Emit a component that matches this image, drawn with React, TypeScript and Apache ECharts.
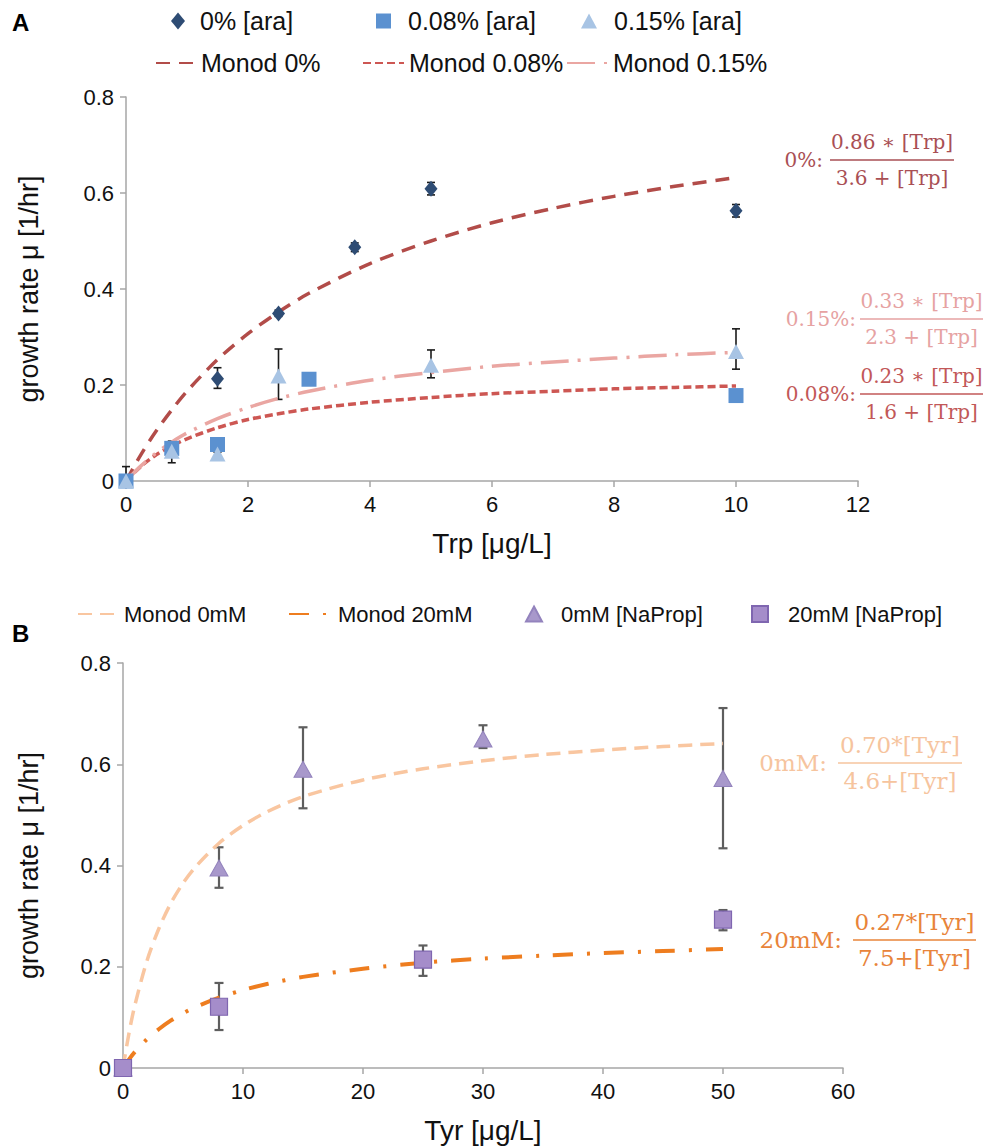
import React, { useEffect, useRef } from "react";
import * as echarts from "echarts";

// ---------- Panel A data ----------
const trpTicks = [0, 2, 4, 6, 8, 10, 12];
const trpX0 = [0, 1.5, 2.5, 3.75, 5, 10];
const growth0 = [0, 0.213, 0.349, 0.487, 0.609, 0.563];
const err0Low = [0, 0.193, 0.343, 0.478, 0.596, 0.55];
const err0High = [0.004, 0.236, 0.356, 0.496, 0.622, 0.576];

const trpX008 = [0, 0.75, 1.5, 3, 10];
const growth008 = [0, 0.068, 0.076, 0.212, 0.178];
const err008Low = [0, 0.038, 0.068, 0.207, 0.173];
const err008High = [0.03, 0.083, 0.084, 0.217, 0.183];

const trpX015 = [0, 0.75, 1.5, 2.5, 5, 10];
const growth015 = [0, 0.062, 0.056, 0.219, 0.241, 0.27];
const err015Low = [0, 0.055, 0.05, 0.17, 0.215, 0.233];
const err015High = [0.004, 0.07, 0.06, 0.275, 0.273, 0.317];

const trpCurveX = [0, 0.25, 0.5, 0.75, 1, 1.5, 2, 2.5, 3, 4, 5, 6, 7, 8, 9, 10];
const monod0 = [0, 0.056, 0.105, 0.148, 0.187, 0.253, 0.307, 0.352, 0.391, 0.453, 0.5, 0.538, 0.568, 0.593, 0.614, 0.632];
const monod008 = [0, 0.031, 0.055, 0.073, 0.088, 0.111, 0.128, 0.14, 0.15, 0.164, 0.174, 0.182, 0.187, 0.192, 0.195, 0.198];
const monod015 = [0, 0.032, 0.059, 0.081, 0.1, 0.13, 0.153, 0.172, 0.187, 0.21, 0.226, 0.239, 0.248, 0.256, 0.263, 0.268];

// ---------- Panel B data ----------
const tyrTicks = [0, 10, 20, 30, 40, 50, 60];
const tyrX0mM = [0, 8, 15, 30, 50];
const growth0mM = [0, 0.395, 0.59, 0.65, 0.572];
const err0mMLow = [0, 0.356, 0.513, 0.632, 0.434];
const err0mMHigh = [0, 0.436, 0.673, 0.677, 0.711];

const tyrX20mM = [0, 8, 25, 50];
const growth20mM = [0, 0.121, 0.214, 0.293];
const err20mMLow = [0, 0.075, 0.182, 0.272];
const err20mMHigh = [0, 0.168, 0.242, 0.312];

const tyrCurveX = [0, 0.5, 1, 2, 3, 4, 5, 6, 8, 10, 12, 15, 20, 25, 30, 35, 40, 45, 50];
const monod0mM = [0, 0.069, 0.125, 0.212, 0.276, 0.326, 0.365, 0.396, 0.444, 0.479, 0.506, 0.536, 0.569, 0.591, 0.607, 0.619, 0.628, 0.635, 0.641];
const monod20mM = [0, 0.017, 0.032, 0.057, 0.077, 0.094, 0.108, 0.12, 0.139, 0.154, 0.166, 0.18, 0.196, 0.208, 0.216, 0.222, 0.227, 0.231, 0.235];

const growthTicks = [0, 0.2, 0.4, 0.6, 0.8];

const SANS = "'Liberation Sans', Arial, Helvetica, sans-serif";
const SERIF = "'DejaVu Serif', 'Liberation Serif', serif";

const zip = (xs: number[], ys: number[]) => xs.map((x, i) => [x, ys[i]]);

function errSeries(name: string, xs: number[], lo: number[], hi: number[], color: string, width: number, cap: number, axis: number) {
  return {
    type: "custom",
    name,
    xAxisIndex: axis,
    yAxisIndex: axis,
    z: 2,
    silent: true,
    data: xs.map((x, i) => [x, lo[i], hi[i]]),
    encode: { x: 0, y: [1, 2] },
    renderItem: (params: any, api: any) => {
      const x = api.value(0);
      const l = api.value(1);
      const h = api.value(2);
      if (h - l <= 0) return { type: "group", children: [] };
      const p1 = api.coord([x, h]);
      const p2 = api.coord([x, l]);
      const st = { stroke: color, lineWidth: width };
      return {
        type: "group",
        children: [
          { type: "line", shape: { x1: p1[0], y1: p1[1], x2: p2[0], y2: p2[1] }, style: st },
          { type: "line", shape: { x1: p1[0] - cap, y1: p1[1], x2: p1[0] + cap, y2: p1[1] }, style: st },
          { type: "line", shape: { x1: p2[0] - cap, y1: p2[1], x2: p2[0] + cap, y2: p2[1] }, style: st },
        ],
      };
    },
  };
}

function axisBase(titleSize: number) {
  return {
    type: "value",
    axisLine: { show: true, lineStyle: { color: "#a6a6a6", width: 1.5 } },
    axisTick: { show: true, length: 6, lineStyle: { color: "#a6a6a6", width: 1.5 } },
    splitLine: { show: false },
    nameLocation: "middle",
    nameTextStyle: { color: "#111", fontSize: titleSize, fontFamily: SANS },
  };
}

function legendItem(name: string, icon: string | undefined, left: number, centerY: number, iw: number, ih: number, pad: number, size: number) {
  const isLine = !icon;
  return {
    data: [icon ? { name, icon } : { name }],
    left,
    top: centerY - 14,
    itemWidth: iw,
    itemHeight: ih,
    selectedMode: false,
    padding: 0,
    ...(isLine ? { itemStyle: { opacity: 0, color: "rgba(0,0,0,0)", borderWidth: 0 } } : {}),
    textStyle: { color: "#111", fontSize: size, fontFamily: SANS, lineHeight: 28, padding: [0, 0, 0, pad] },
  };
}

function fraction(label: string, labelRight: number, y: number, num: string, den: string, x1: number, x2: number, color: string, size: number, weight: string) {
  const cx = (x1 + x2) / 2;
  const font = { fontFamily: SERIF, fontSize: size, fontWeight: weight, fill: color };
  return [
    { type: "text", x: labelRight, y, style: { ...font, text: label, align: "right", verticalAlign: "middle", textAlign: "right", textVerticalAlign: "middle" } },
    { type: "text", x: cx, y: y - 18, style: { ...font, text: num, align: "center", verticalAlign: "middle", textAlign: "center", textVerticalAlign: "middle" } },
    { type: "line", shape: { x1, y1: y, x2, y2: y }, style: { stroke: color, lineWidth: 1.6 } },
    { type: "text", x: cx, y: y + 18, style: { ...font, text: den, align: "center", verticalAlign: "middle", textAlign: "center", textVerticalAlign: "middle" } },
  ];
}

function buildOption() {
  const tickFmt = (v: number) => (v === 0 ? "0" : String(+v.toFixed(1)));
  const tickLabel = { color: "#111", fontSize: 22, fontFamily: SANS, margin: 12 };
  return {
    animation: false,
    backgroundColor: "#ffffff",
    grid: [
      { left: 126, top: 97, width: 732, height: 384 },
      { left: 123, top: 663, width: 720, height: 405 },
    ],
    xAxis: [
      {
        ...axisBase(28),
        gridIndex: 0,
        min: trpTicks[0],
        max: trpTicks[trpTicks.length - 1],
        interval: trpTicks[1] - trpTicks[0],
        name: "Trp [μg/L]",
        nameGap: 48,
        axisLabel: tickLabel,
      },
      {
        ...axisBase(28),
        gridIndex: 1,
        min: tyrTicks[0],
        max: tyrTicks[tyrTicks.length - 1],
        interval: tyrTicks[1] - tyrTicks[0],
        name: "Tyr [μg/L]",
        nameGap: 48,
        axisLabel: tickLabel,
      },
    ],
    yAxis: [
      {
        ...axisBase(27),
        gridIndex: 0,
        min: growthTicks[0],
        max: growthTicks[growthTicks.length - 1],
        interval: 0.2,
        name: "growth rate μ [1/hr]",
        nameGap: 84,
        axisLabel: { ...tickLabel, formatter: tickFmt },
      },
      {
        ...axisBase(27),
        gridIndex: 1,
        min: growthTicks[0],
        max: growthTicks[growthTicks.length - 1],
        interval: 0.2,
        name: "growth rate μ [1/hr]",
        nameGap: 81,
        axisLabel: { ...tickLabel, formatter: tickFmt },
      },
    ],
    legend: [
      legendItem("0% [ara]", "diamond", 171, 21, 14, 17, 10, 25),
      legendItem("0.08% [ara]", "rect", 376, 21, 15, 15, 12, 25),
      legendItem("0.15% [ara]", "triangle", 581, 21, 16, 15, 12, 25),
      legendItem("Monod 0%", undefined, 155, 63, 40, 14, 0, 25),
      legendItem("Monod 0.08%", undefined, 362, 63, 41, 14, 0, 25),
      legendItem("Monod 0.15%", undefined, 566, 63, 41, 14, 0, 25),
      legendItem("Monod 0mM", undefined, 77, 614, 41, 14, 0, 22),
      legendItem("Monod 20mM", undefined, 288, 614, 40, 14, 4, 22),
      legendItem("0mM [NaProp]", "triangle", 525, 614, 16, 15, 14, 22),
      legendItem("20mM [NaProp]", "rect", 751, 614, 16, 16, 15, 22),
    ],
    series: [
      // Panel A curves
      {
        type: "line", name: "Monod 0%", xAxisIndex: 0, yAxisIndex: 0, z: 3,
        data: zip(trpCurveX, monod0), showSymbol: false, symbol: "none", smooth: 0.3,
        lineStyle: { color: "#b24c49", width: 3.5, type: [14, 9] }, itemStyle: { color: "#b24c49" },
      },
      {
        type: "line", name: "Monod 0.08%", xAxisIndex: 0, yAxisIndex: 0, z: 3,
        data: zip(trpCurveX, monod008), showSymbol: false, symbol: "none", smooth: 0.3,
        lineStyle: { color: "#cd5753", width: 3.5, type: [8, 4] }, itemStyle: { color: "#cd5753" },
      },
      {
        type: "line", name: "Monod 0.15%", xAxisIndex: 0, yAxisIndex: 0, z: 3,
        data: zip(trpCurveX, monod015), showSymbol: false, symbol: "none", smooth: 0.3,
        lineStyle: { color: "#eaa6a2", width: 3.5, type: [28, 9, 3, 9] }, itemStyle: { color: "#eaa6a2" },
      },
      errSeries("err 0%", trpX0, err0Low, err0High, "#1a1a1a", 1.6, 4, 0),
      errSeries("err 0.08%", trpX008, err008Low, err008High, "#1a1a1a", 1.6, 4, 0),
      errSeries("err 0.15%", trpX015, err015Low, err015High, "#1a1a1a", 1.6, 4, 0),
      {
        type: "scatter", name: "0% [ara]", xAxisIndex: 0, yAxisIndex: 0, z: 4,
        data: zip(trpX0, growth0), symbol: "diamond", symbolSize: [13, 16],
        itemStyle: { color: "#2e4c74", opacity: 1 },
      },
      {
        type: "scatter", name: "0.08% [ara]", xAxisIndex: 0, yAxisIndex: 0, z: 5,
        data: zip(trpX008, growth008), symbol: "rect", symbolSize: 15,
        itemStyle: { color: "#5b91d0", opacity: 1 },
      },
      {
        type: "scatter", name: "0.15% [ara]", xAxisIndex: 0, yAxisIndex: 0, z: 6,
        data: zip(trpX015, growth015), symbol: "triangle", symbolSize: [16, 15],
        itemStyle: { color: "#a8c4e4", opacity: 1 },
      },
      // Panel B
      {
        type: "line", name: "Monod 0mM", xAxisIndex: 1, yAxisIndex: 1, z: 3,
        data: zip(tyrCurveX, monod0mM), showSymbol: false, symbol: "none", smooth: 0.3,
        lineStyle: { color: "#f9c6a0", width: 3.5, type: [14, 8] }, itemStyle: { color: "#f9c6a0" },
      },
      {
        type: "line", name: "Monod 20mM", xAxisIndex: 1, yAxisIndex: 1, z: 3,
        data: zip(tyrCurveX, monod20mM), showSymbol: false, symbol: "none", smooth: 0.3,
        lineStyle: { color: "#ee7d1f", width: 4, type: [20, 14, 3, 14] }, itemStyle: { color: "#ee7d1f" },
      },
      errSeries("err 0mM", tyrX0mM, err0mMLow, err0mMHigh, "#5e5e5e", 2.2, 4.5, 1),
      errSeries("err 20mM", tyrX20mM, err20mMLow, err20mMHigh, "#5e5e5e", 2.2, 4.5, 1),
      {
        type: "scatter", name: "0mM [NaProp]", xAxisIndex: 1, yAxisIndex: 1, z: 4,
        data: zip(tyrX0mM, growth0mM), symbol: "triangle", symbolSize: [18, 16],
        itemStyle: { color: "#a898cb", borderColor: "#9383bd", borderWidth: 1, opacity: 1 },
      },
      {
        type: "scatter", name: "20mM [NaProp]", xAxisIndex: 1, yAxisIndex: 1, z: 5,
        data: zip(tyrX20mM, growth20mM), symbol: "rect", symbolSize: 17,
        itemStyle: { color: "#a58dca", borderColor: "#7f66b0", borderWidth: 1.2, opacity: 1 },
      },
    ],
    graphic: [
      { type: "text", x: 12, y: 22, style: { text: "A", fontFamily: SANS, fontSize: 24, fontWeight: "bold", fill: "#000", align: "left", verticalAlign: "middle", textAlign: "left", textVerticalAlign: "middle" } },
      { type: "text", x: 12, y: 633, style: { text: "B", fontFamily: SANS, fontSize: 24, fontWeight: "bold", fill: "#000", align: "left", verticalAlign: "middle", textAlign: "left", textVerticalAlign: "middle" } },
      ...fraction("0%:", 823, 160, "0.86 ∗ [Trp]", "3.6 + [Trp]", 830, 954, "#a94f54", 20, "normal"),
      ...fraction("0.15%:", 856, 319, "0.33 ∗ [Trp]", "2.3 + [Trp]", 860, 983, "#e6a2a2", 20, "normal"),
      ...fraction("0.08%:", 856, 394, "0.23 ∗ [Trp]", "1.6 + [Trp]", 860, 983, "#c25858", 20, "normal"),
      ...fraction("0mM:", 827, 763, "0.70*[Tyr]", "4.6+[Tyr]", 838, 962, "#f6c49e", 23, "normal"),
      ...fraction("20mM:", 842, 940, "0.27*[Tyr]", "7.5+[Tyr]", 853, 976, "#e8843a", 23, "normal"),
    ],
  };
}

export default function App() {
  const ref = useRef<HTMLDivElement>(null);
  useEffect(() => {
    document.body.style.margin = "0";
    const chart = echarts.init(ref.current as HTMLDivElement, null, { renderer: "svg" });
    chart.setOption(buildOption() as any);
    return () => chart.dispose();
  }, []);
  return <div ref={ref} style={{ width: 986, height: 1148 }} />;
}
